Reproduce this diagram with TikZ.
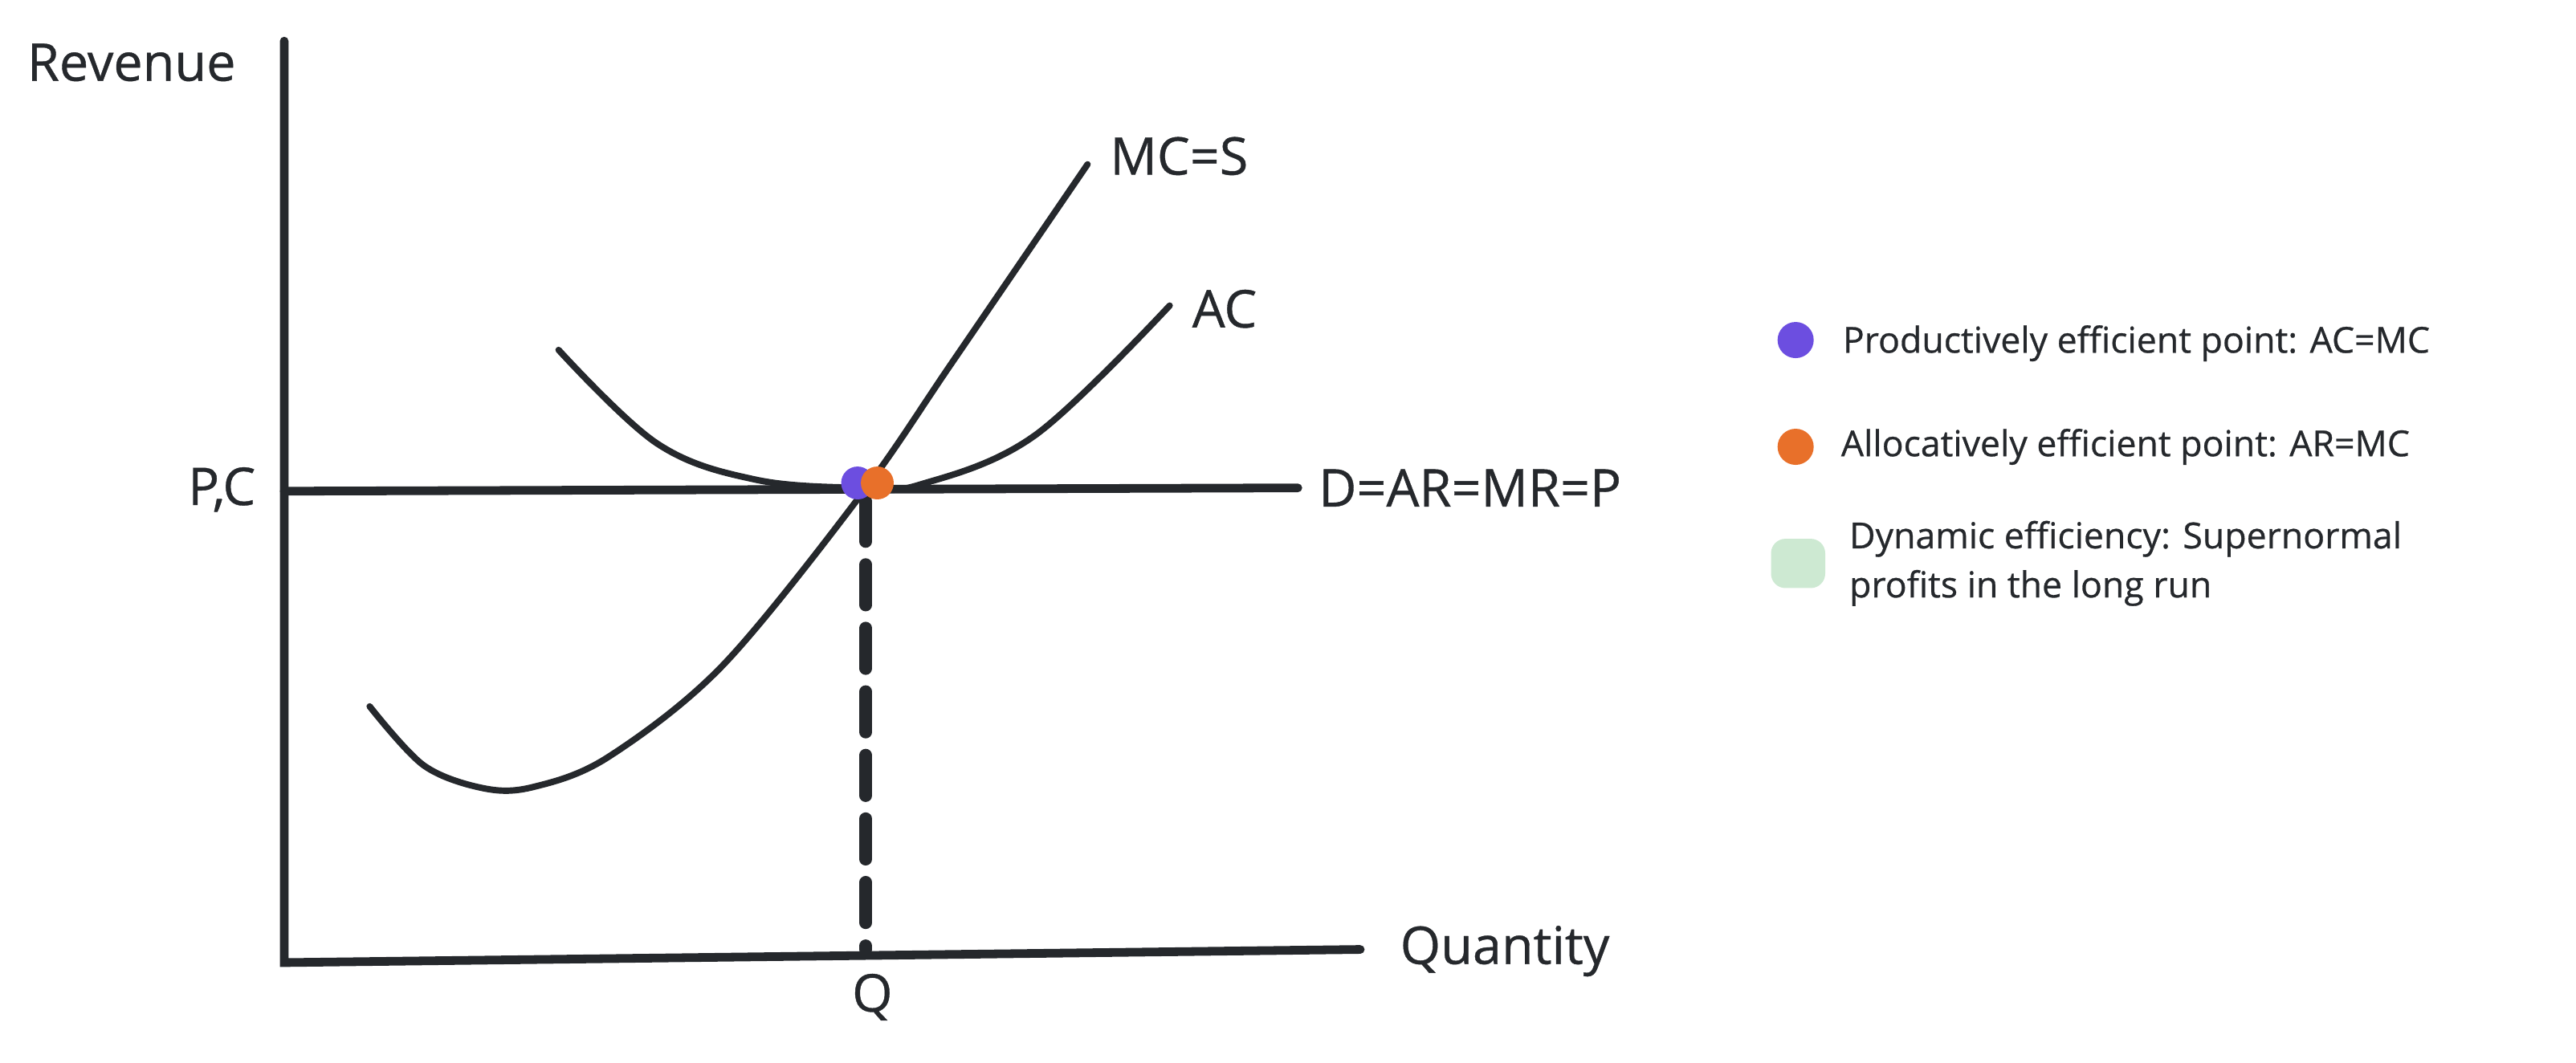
\documentclass[tikz,border=0pt]{standalone}
\usepackage{fontspec}
\setmainfont{Open Sans}[AutoFakeBold=0.6]
\definecolor{ink}{HTML}{25282C}
\definecolor{pur}{HTML}{6C4EE0}
\definecolor{org}{HTML}{E8702A}
\definecolor{grn}{HTML}{CDE9D2}
\begin{document}
\begin{tikzpicture}[x=0.01cm,y=-0.01cm,
  axis/.style={ink,line width=1.5pt,line cap=round},
  curve/.style={ink,line width=1.1pt,line cap=round},
  lbl/.style={ink,font=\bfseries\fontsize{9}{10}\selectfont,inner sep=0pt},
  leg/.style={ink,font=\bfseries\fontsize{6.2}{8.5}\selectfont,inner sep=0pt,anchor=west,align=left}]
\useasboundingbox (0,0) rectangle (1568,647);
\coordinate (ytop) at (173,25);
\coordinate (o) at (173,586);
\coordinate (xend) at (828,578);
\draw[axis] (ytop) -- (o) -- (xend);
\coordinate (pl) at (173,299);
\coordinate (pr) at (790,297);
\draw[axis] (pl) -- (pr);
\node[lbl] (rev) at (80,38) {Revenue};
\node[lbl] (qty) at (916,579) {Quantity};
\node[lbl] (q) at (531,607) {Q};
\node[lbl] (pc) at (135,298) {P,C};
\node[lbl,anchor=west] (d) at (802,297) {D=AR=MR=P};
\node[lbl,anchor=west] (mcs) at (675,95) {MC=S};
\node[lbl,anchor=west] (ac) at (725,188) {AC};
\draw[curve] plot[smooth,tension=0.55] coordinates {(225,430) (258,466) (295,480) (325,479) (370,461) (440,405) (525,300) (580,220) (662,100)};
\draw[curve] plot[smooth,tension=0.6] coordinates {(340,213) (400,270) (460,292) (525,297) (560,295) (630,265) (712,186)};
\coordinate (qt) at (527,305);
\coordinate (qb) at (527,578);
\draw[ink,line width=2.2pt,dash pattern=on 7pt off 4pt,line cap=round] (qt) -- (qb);
\fill[pur] (522,294) circle (10);
\fill[org] (534,294) circle (10);
\fill[pur] (1093,207) circle (11);
\node[leg] (l1) at (1121,209) {Productively efficient point: AC=MC};
\fill[org] (1093,272) circle (11);
\node[leg] (l2) at (1120,272) {Allocatively efficient point: AR=MC};
\fill[grn,rounded corners=2.5pt] (1078,328) rectangle (1111,358);
\node[leg] (l3) at (1125,343) {Dynamic efficiency: Supernormal\\profits in the long run};
\end{tikzpicture}
\end{document}
